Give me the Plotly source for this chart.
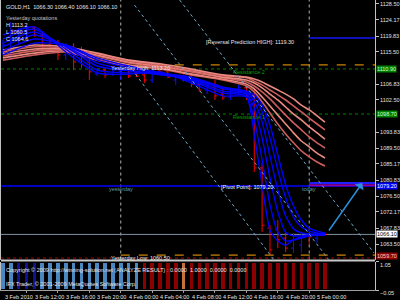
import plotly.graph_objects as go

# ---------------- data ----------------
# H1 bars, hours after 3 Feb 2010 00:00
BAR_HOURS = list(range(9, 51))
OPEN = [1115.5, 1116.0, 1118.8, 1120.6, 1122.0, 1120.1, 1117.4, 1117.4, 1114.7, 1116.9,
        1113.3, 1112.8, 1109.5, 1110.6, 1109.5, 1110.1, 1110.6, 1109.8, 1109.3, 1107.9,
        1110.6, 1110.1, 1107.9, 1107.9, 1109.0, 1106.8, 1105.2, 1106.3, 1104.1, 1103.3,
        1104.7, 1105.8, 1103.9, 1084.1, 1067.8, 1067.3, 1065.1, 1062.4, 1063.2, 1065.7,
        1065.1, 1066.3]
HIGH = [1118.8, 1123.6, 1122.0, 1122.8, 1122.5, 1120.6, 1119.3, 1118.8, 1117.9, 1117.9,
        1116.9, 1113.9, 1111.2, 1111.4, 1111.7, 1112.0, 1111.2, 1110.1, 1109.8, 1110.9,
        1111.7, 1110.6, 1109.3, 1109.5, 1109.8, 1107.4, 1106.8, 1107.9, 1106.0, 1105.8,
        1106.6, 1106.3, 1105.8, 1085.4, 1068.6, 1070.0, 1066.5, 1066.5, 1066.8, 1066.5,
        1066.5, 1066.4]
LOW = [1114.7, 1113.9, 1117.4, 1119.3, 1119.6, 1115.2, 1115.5, 1113.3, 1113.3, 1110.6,
       1111.2, 1107.9, 1109.0, 1108.5, 1109.0, 1107.9, 1108.5, 1108.7, 1107.1, 1107.1,
       1109.5, 1108.5, 1106.6, 1107.4, 1106.0, 1104.7, 1104.1, 1102.5, 1102.5, 1102.5,
       1103.9, 1102.5, 1083.0, 1066.8, 1060.5, 1062.4, 1061.3, 1061.1, 1061.1, 1063.2,
       1063.8, 1066.1]
CLOSE = [1117.4, 1121.5, 1120.9, 1122.0, 1120.1, 1116.6, 1116.0, 1114.7, 1116.9, 1112.8,
         1112.0, 1110.1, 1110.6, 1109.3, 1110.6, 1110.6, 1109.0, 1109.0, 1107.9, 1110.6,
         1110.1, 1108.7, 1108.7, 1109.0, 1106.8, 1105.2, 1106.3, 1103.6, 1103.3, 1104.7,
         1105.8, 1103.6, 1084.1, 1068.6, 1061.9, 1064.6, 1062.4, 1065.7, 1065.7, 1065.4,
         1066.2, 1066.1]

# moving-average ribbons, read at these hours
RIB_HOURS = [9, 13, 17, 21, 25, 29, 33, 37, 40, 41, 42, 43, 44, 45, 46, 47, 48, 49, 50]
BLUE_1 = [1120.1, 1122.3, 1115.5, 1109.8, 1109.5, 1110.1, 1107.1, 1103.6, 1103.3, 1093.0,
          1079.5, 1067.3, 1064.3, 1063.2, 1064.6, 1065.4, 1065.7, 1065.9, 1065.9]
BLUE_2 = [1119.0, 1121.7, 1116.3, 1110.6, 1109.8, 1109.8, 1107.6, 1104.4, 1103.6, 1097.1,
          1086.3, 1074.1, 1066.7, 1064.3, 1064.6, 1065.1, 1065.7, 1065.9, 1065.9]
BLUE_3 = [1117.9, 1120.9, 1116.9, 1111.7, 1110.4, 1109.5, 1107.9, 1104.9, 1104.1, 1100.3,
          1092.2, 1081.4, 1072.2, 1066.7, 1065.7, 1065.7, 1065.9, 1065.9, 1065.9]
BLUE_4 = [1116.9, 1120.1, 1117.1, 1112.5, 1110.6, 1109.3, 1108.2, 1105.5, 1104.4, 1102.0,
          1096.5, 1087.3, 1078.1, 1071.1, 1067.6, 1066.5, 1066.2, 1066.2, 1066.2]
BLUE_5 = [1115.8, 1119.0, 1117.4, 1113.3, 1111.2, 1109.5, 1108.5, 1105.8, 1104.7, 1103.0,
          1099.3, 1092.2, 1083.5, 1076.0, 1070.8, 1068.1, 1067.0, 1066.5, 1066.2]
BLUE_6 = [1114.7, 1117.9, 1117.4, 1113.9, 1111.7, 1109.8, 1108.7, 1106.0, 1104.9, 1103.9,
          1101.1, 1095.7, 1087.6, 1079.5, 1073.8, 1070.0, 1067.8, 1067.0, 1066.5]
PINK_1 = [1113.3, 1114.7, 1115.5, 1113.3, 1111.7, 1110.9, 1109.3, 1107.9, 1106.3, 1104.7,
          1102.0, 1099.0, 1096.0, 1093.3, 1090.9, 1088.7, 1087.1, 1085.7, 1084.6]
PINK_2 = [1113.9, 1115.2, 1115.8, 1113.9, 1112.0, 1111.2, 1109.5, 1108.2, 1106.8, 1105.5,
          1103.3, 1100.9, 1098.4, 1096.0, 1093.6, 1091.4, 1089.8, 1088.1, 1086.8]
PINK_3 = [1114.4, 1115.8, 1116.0, 1114.4, 1112.5, 1111.4, 1110.1, 1108.5, 1107.4, 1106.3,
          1104.7, 1102.8, 1100.6, 1098.4, 1096.3, 1094.4, 1092.5, 1090.9, 1089.5]
PINK_4 = [1115.0, 1116.3, 1116.3, 1114.7, 1112.8, 1111.7, 1110.4, 1108.7, 1107.9, 1107.1,
          1105.8, 1104.1, 1102.5, 1100.6, 1098.7, 1097.1, 1095.2, 1093.6, 1091.9]
PINK_5 = [1115.5, 1116.9, 1116.6, 1115.0, 1113.1, 1112.0, 1110.6, 1109.0, 1108.5, 1107.6,
          1106.6, 1105.2, 1103.9, 1102.5, 1100.9, 1099.3, 1097.6, 1096.0, 1094.4]
PINK_6 = [1116.0, 1117.4, 1116.9, 1115.2, 1113.3, 1112.3, 1110.9, 1109.3, 1108.7, 1108.2,
          1107.4, 1106.3, 1105.2, 1104.1, 1102.8, 1101.1, 1099.8, 1098.2, 1096.5]

# trend channel lines (hour, price) pairs
CH_A_H, CH_A_P = [25.875, 43.5], [1109.5, 1059.2]
CH_B_H, CH_B_P = [25.75, 50.5], [1128.2, 1059.2]
CH_C_H, CH_C_P = [31.5, 56.25], [1129.58, 1061.06]
ARROW_FROM = (50.375, 1066.75)
ARROW_TO = (54.75, 1080.0)

# levels
DAY_STARTS = [24, 48]
TODAY_START = 48
YEST_START = 24
REV_HIGH = 1119.30
YEST_HIGH = 1112.00
RES_2 = 1110.90
RES_1 = 1098.70
PIVOT = 1079.20
REV_LOW_BLUE = 1080.00
REV_LOW_PURPLE = 1079.40
CUR_PRICE = 1066.10
YEST_LOW = 1060.50
SUPPORT = 1059.70

# visible price scale labels (the ones under the level boxes are hidden)
PRICE_TICKS = [1128.50, 1124.17, 1119.83, 1115.50, 1106.83, 1102.50,
               1093.83, 1089.50, 1085.17, 1080.83, 1076.50, 1072.17, 1067.83, 1063.50]
TIME_TICK_HOURS = [12, 16, 20, 24, 28, 32, 36, 40, 44, 48]
TIME_LABELS = ["3 Feb 12:00", "3 Feb 16:00", "3 Feb 20:00", "4 Feb 00:00", "4 Feb 04:00",
               "4 Feb 08:00", "4 Feb 12:00", "4 Feb 16:00", "4 Feb 20:00", "5 Feb 00:00"]
IND_TICKS = [1.05, -0.05]

# indicator histogram
IND_VALUES = [1.0] * 42
IND_COLORS = (["#4a86c0"] * 2 + ["#10109a"] * 3 + ["#4a86c0"] * 13 + ["#8b0000"] * 5
              + ["#c8703c"] + ["#8b0000"] * 18)

FONT = "Liberation Sans"
fig = go.Figure()

# pink ribbon
for k, ys in enumerate([PINK_1, PINK_2, PINK_3, PINK_4, PINK_5, PINK_6]):
    fig.add_trace(go.Scatter(x=RIB_HOURS, y=ys, mode="lines", hoverinfo="skip",
                             line=dict(color=["#cd5c5c", "#e88a80"][k % 2], width=1.6,
                                       shape="spline", smoothing=0.6)))
# blue ribbon
for k, ys in enumerate([BLUE_1, BLUE_2, BLUE_3, BLUE_4, BLUE_5, BLUE_6]):
    fig.add_trace(go.Scatter(x=RIB_HOURS, y=ys, mode="lines", hoverinfo="skip",
                             line=dict(color="#0000ff", width=1.4,
                                       shape="spline", smoothing=0.6)))

# channel lines
for hh, pp in [(CH_A_H, CH_A_P), (CH_B_H, CH_B_P), (CH_C_H, CH_C_P)]:
    fig.add_trace(go.Scatter(x=hh, y=pp, mode="lines", hoverinfo="skip",
                             line=dict(color="#6fa8c8", width=1, dash="dot")))

# bars
fig.add_trace(go.Ohlc(x=BAR_HOURS, open=OPEN, high=HIGH, low=LOW, close=CLOSE,
                      increasing=dict(line=dict(color="#1010ff", width=1)),
                      decreasing=dict(line=dict(color="#ff0000", width=1)),
                      tickwidth=0.3, hoverinfo="skip"))

# indicator
fig.add_trace(go.Bar(x=BAR_HOURS, y=IND_VALUES, marker=dict(color=IND_COLORS, line_width=0),
                     width=0.45, yaxis="y2", hoverinfo="skip"))

shapes = []
MAIN_BOTTOM = 0.1082
for d in DAY_STARTS:
    shapes.append(dict(type="line", xref="x", yref="paper", x0=d, x1=d, y0=MAIN_BOTTOM, y1=1,
                       line=dict(color="#b0b0b0", width=1, dash="dot"), layer="below"))


def hline(price, x0, color, width=1, dash="solid"):
    if x0 is None:
        xr, a, b = "paper", 0, 1
    else:
        xr, a, b = "x", x0, 60
    shapes.append(dict(type="line", xref=xr, yref="y", x0=a, x1=b, y0=price, y1=price,
                       line=dict(color=color, width=width, dash=dash), layer="below"))


hline(REV_HIGH, TODAY_START, "#1010b8", 2)
hline(YEST_HIGH, YEST_START, "#ffa500", 1, "dash")
hline(RES_2, None, "#008000", 1, "dot")
hline(RES_1, None, "#008000", 1, "dot")
hline(REV_LOW_BLUE, TODAY_START, "#2020ff", 2)
hline(REV_LOW_PURPLE, TODAY_START, "#9000a0", 2)
hline(PIVOT, None, "#0000ff", 1.5)
hline(CUR_PRICE, None, "#8090a0", 1)
hline(YEST_LOW, YEST_START, "#ffa500", 1, "dash")
hline(SUPPORT, None, "#b00000", 1, "dot")
# separator between windows
shapes.append(dict(type="line", xref="paper", yref="paper", x0=0, x1=1, y0=0.1045, y1=0.1045,
                   line=dict(color="#c8c8c8", width=2)))

ann = []


def txt(x, y, s, color="#e8e8e8", xref="x", yref="y", xanchor="left", yanchor="middle",
        size=5.5, xshift=0, yshift=0, bg=None):
    d = dict(x=x, y=y, xref=xref, yref=yref, text=s, showarrow=False, xanchor=xanchor,
             yanchor=yanchor, xshift=xshift, yshift=yshift,
             font=dict(family=FONT, size=size, color=color))
    if bg:
        d.update(bgcolor=bg, borderpad=0)
    ann.append(d)


txt(0, 1, "GOLD,H1  %.2f %.2f %.2f %.2f" % (OPEN[-1], HIGH[-1], LOW[-1], CLOSE[-1]),
    xref="paper", yref="paper", yanchor="top", xshift=3, yshift=-2)
txt(0, 1, "Yesterday quotations", color="#b8c8d8", xref="paper", yref="paper",
    yanchor="top", xshift=3, yshift=-13)
txt(0, 1, "H 1113.2", xref="paper", yref="paper", yanchor="top", xshift=3, yshift=-20)
txt(0, 1, "L 1060.5", xref="paper", yref="paper", yanchor="top", xshift=3, yshift=-27)
txt(0, 1, "C 1064.6", xref="paper", yref="paper", yanchor="top", xshift=3, yshift=-34)

txt(22.5, YEST_HIGH, "Yesterday High: 1113.20", yshift=-3)
txt(22.5, YEST_LOW, "Yesterday Low: 1060.50", yshift=-3)
txt(34.6, REV_HIGH, "[Reversal Prediction HIGH]: 1119.30", yshift=-4)
txt(38.1, RES_2, "Resistance 2", color="#00a000", yshift=-3)
txt(38.1, RES_1, "Resistance 1", color="#00a000", yshift=-3)
txt(DAY_STARTS[0], PIVOT, "yesterday", color="#5f9ea0", xanchor="center", yshift=-3)
txt(DAY_STARTS[1], PIVOT, "today", color="#5f9ea0", xanchor="center", yshift=-3)
txt(36.5, PIVOT, "[Pivot Point]: 1079.20", color="#ffffff", yshift=-1)

# right-axis boxes
for price, bg, fg, dy in [(RES_2, "#008000", "#d0ffd0", 0), (RES_1, "#008000", "#d0ffd0", 0),
                          (PIVOT, "#0000ff", "#ffffff", 0), (CUR_PRICE, "#ffffff", "#000000", 0),
                          (SUPPORT, "#8b0000", "#ffd0d0", 2)]:
    txt(1, price, "%.2f" % price, color=fg, xref="paper", xanchor="left", xshift=1,
        yshift=dy, bg=bg)

# indicator texts
txt(0, 0.0997, "Copyright © 2009 http://winning-solution.net (ANALYZE RESULT) : 0.0000  1.0000  0.0000  0.0000",
    xref="paper", yref="paper", yanchor="top", xshift=3, yshift=-3)
txt(0, 0.0034, "IFX Trader, © 2001-2009 MetaQuotes Software Corp.", xref="paper",
    yref="paper", yanchor="bottom", xshift=3, yshift=1)

# time labels
txt(0, 0, "3 Feb 2010", xref="paper", yref="paper", yanchor="top", xshift=2, yshift=-1)
for h, lab in zip(TIME_TICK_HOURS, TIME_LABELS):
    txt(h, 0, lab, yref="paper", yanchor="top", xshift=6, yshift=-1)

# arrow
ann.append(dict(x=ARROW_TO[0], y=ARROW_TO[1], ax=ARROW_FROM[0], ay=ARROW_FROM[1],
                xref="x", yref="y", axref="x", ayref="y", showarrow=True, arrowhead=1,
                arrowsize=1.2, arrowwidth=1.5, arrowcolor="#2a90d8", text=""))

fig.update_layout(
    width=400, height=300, margin=dict(l=0, r=19, t=0, b=9),
    paper_bgcolor="black", plot_bgcolor="black", showlegend=False, bargap=0,
    font=dict(family=FONT, size=5.5, color="#e0e0e0"),
    xaxis=dict(range=[8.75, 56.375], anchor="y2", showgrid=False, zeroline=False,
               showline=True, linecolor="#a0a0a0", tickvals=TIME_TICK_HOURS,
               ticks="outside", ticklen=2, tickcolor="#a0a0a0", showticklabels=False,
               rangeslider=dict(visible=False)),
    yaxis=dict(domain=[MAIN_BOTTOM, 1], range=[1059.30, 1129.58], side="right", anchor="x",
               tickvals=PRICE_TICKS, tickformat=".2f", ticks="outside", ticklen=3,
               tickcolor="#c0c0c0", showline=True, mirror=True, linecolor="#c0c0c0",
               showgrid=False, zeroline=False, tickfont=dict(size=5.5, color="#e0e0e0")),
    yaxis2=dict(domain=[0.0034, 0.0997], range=[-0.05, 1.05], side="right", anchor="x",
                tickvals=IND_TICKS, tickformat=".2f", ticks="outside", ticklen=3,
                ticklabelshift=3,
                tickcolor="#c0c0c0", showline=True, mirror=True, linecolor="#c0c0c0",
                showgrid=False, zeroline=False, tickfont=dict(size=5.5, color="#e0e0e0")),
    shapes=shapes, annotations=ann,
)

fig.write_html("out.html")
